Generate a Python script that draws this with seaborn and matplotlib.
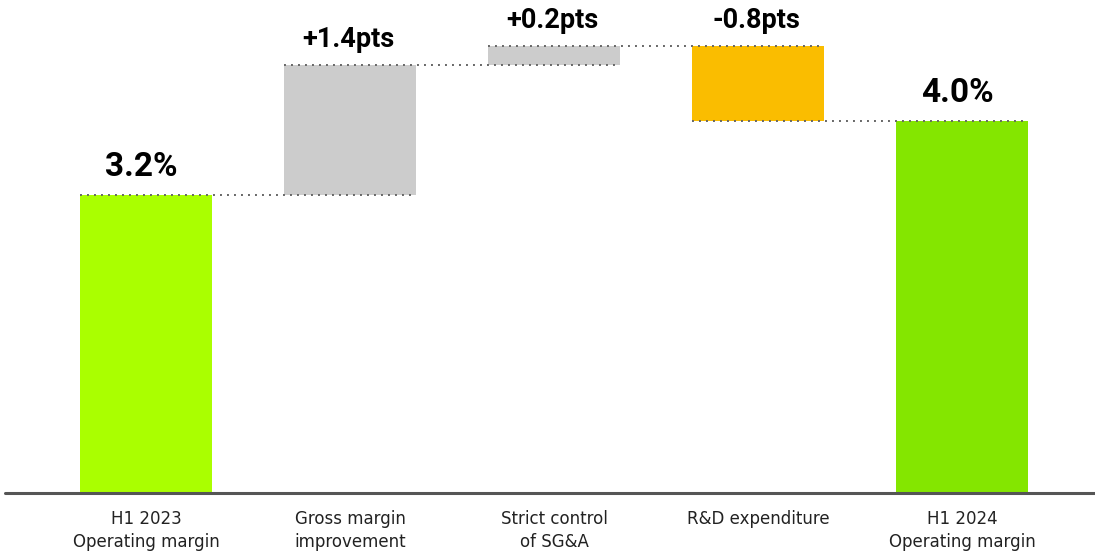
import numpy as np
import pandas as pd
import matplotlib
matplotlib.use("Agg")
import matplotlib.pyplot as plt
import matplotlib.transforms as mtrans
import seaborn as sns

categories = ["H1 2023\nOperating margin", "Gross margin\nimprovement",
              "Strict control\nof SG&A", "R&D expenditure", "H1 2024\nOperating margin"]
values = [3.2, 1.4, 0.2, -0.8, 4.0]
is_total = [True, False, False, False, True]
value_labels = ["3.2%", "+1.4pts", "+0.2pts", "-0.8pts", "4.0%"]
bar_colors = ["#AAFF00", "#CCCCCC", "#CCCCCC", "#FABD00", "#84E600"]

# waterfall geometry derived from values
bottoms, heights, tops, levels = [], [], [], []
running = 0.0
for v, tot in zip(values, is_total):
    if tot:
        b, h = 0.0, v
        running = v
    else:
        b, h = (running, v) if v >= 0 else (running + v, -v)
        running += v
    bottoms.append(b)
    heights.append(h)
    tops.append(b + h)
    levels.append(running)

df = pd.DataFrame({"cat": categories, "height": heights, "bottom": bottoms})

sns.set_theme(style="white")
plt.rcParams["font.family"] = ["DejaVu Sans"]

fig = plt.figure(figsize=(10.95, 5.52), dpi=100)
ax = fig.add_axes([0, 0, 1, 1])

sns.barplot(data=df, x="cat", y="height", bottom=df["bottom"].values,
            color="#CCCCCC", width=0.65, ax=ax, zorder=2, linewidth=0)
for p, c in zip(ax.patches, bar_colors):
    p.set_facecolor(c)
    p.set_edgecolor("none")

# connector dotted lines
for i in range(len(values) - 1):
    ax.plot([i - 0.325, i + 1 + 0.325], [levels[i], levels[i]], linestyle=(0, (1, 2.6)),
            color="#666666", lw=1.4, zorder=3)

# value labels
for i, (t, lab, tot) in enumerate(zip(tops, value_labels, is_total)):
    ax.annotate(lab, (i, t), xytext=(-3.5 if tot else -1, 13.5 if tot else 13),
                textcoords="offset points",
                ha="center", va="baseline", fontsize=24 if tot else 19.5, fontweight="bold",
                family=["Roboto", "DejaVu Sans"], color="black")

# axis
ax.set_xlim(-0.716, 4.652)
ax.set_ylim(-0.634, 5.295)
ax.axhline(0, xmin=5 / 1095, xmax=1, color="#555555", lw=2.2, zorder=4)
for s in ax.spines.values():
    s.set_visible(False)
ax.set_yticks([])
ax.set_xticks([])
ax.set_xlabel("")
ax.set_ylabel("")

offset = mtrans.offset_copy(ax.transData, fig=fig, x=0, y=-12, units="points")
for i, c in enumerate(categories):
    ax.text(i, 0, c, transform=offset, ha="center", va="top", fontsize=12,
            color="#222222", linespacing=1.35)

fig.savefig("out.png", dpi=100)
